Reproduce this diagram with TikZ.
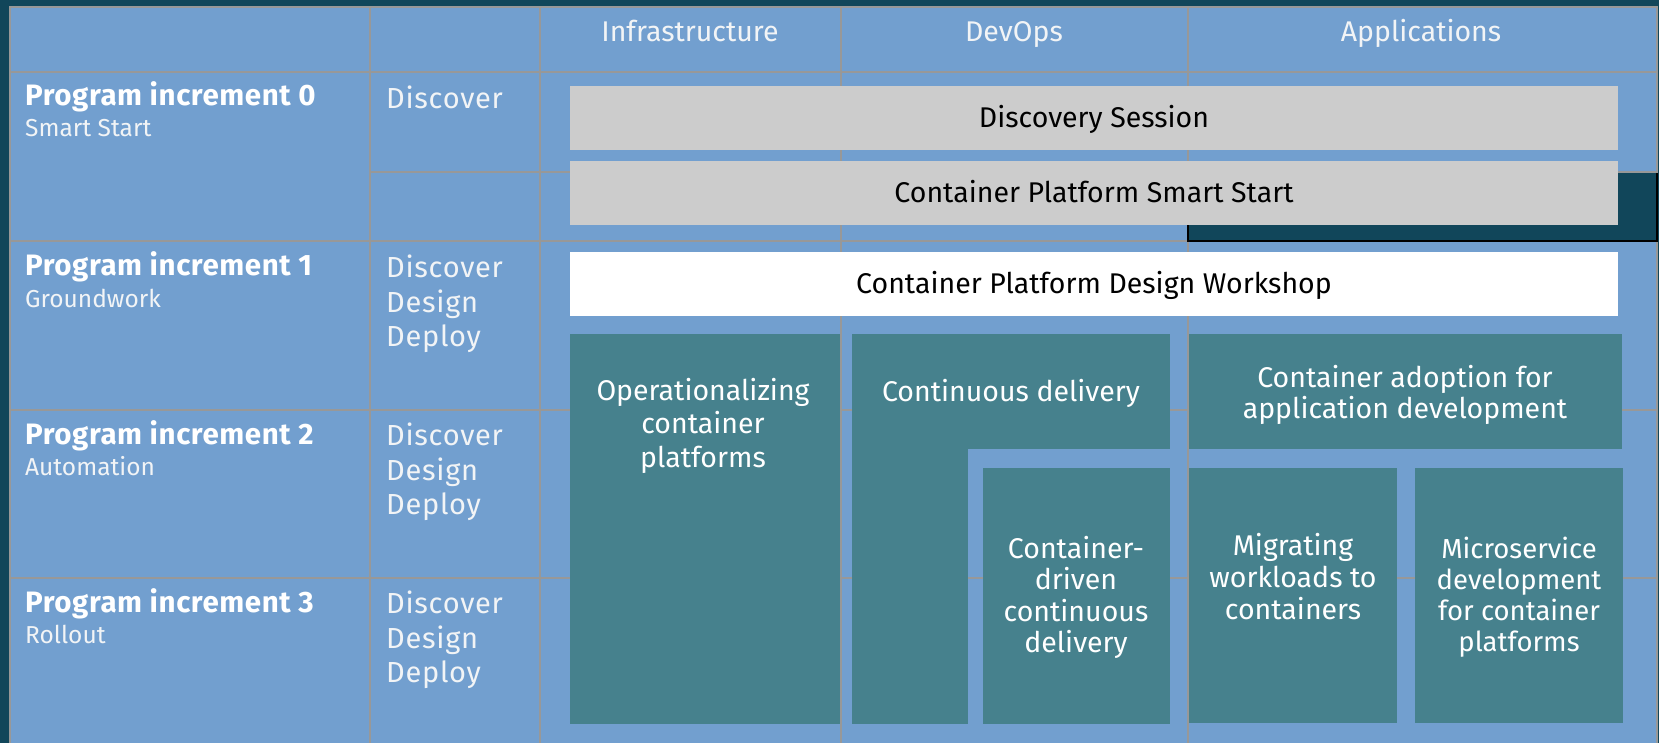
\documentclass[tikz,border=0pt]{standalone}
\usepackage{fontspec}
\setmainfont{Fira Sans}
\definecolor{bgc}{RGB}{17,70,90}
\definecolor{cellc}{RGB}{114,159,207}
\definecolor{gridc}{RGB}{152,152,152}
\definecolor{tealc}{RGB}{70,129,141}
\definecolor{grayc}{RGB}{204,204,204}
\definecolor{txtc}{RGB}{242,244,246}
\newcommand{\bxfont}{\fontsize{28.5}{31.5}\selectfont}
\newcommand{\opfont}{\fontsize{28.5}{33.5}\selectfont}
\newcommand{\hdfont}{\fontsize{28.5}{32}\selectfont}
\newcommand{\lbfont}{\fontsize{29.5}{32}\selectfont\bfseries\addfontfeature{LetterSpace=2}}
\newcommand{\sbfont}{\fontsize{24.5}{28}\selectfont}
\newcommand{\ddfont}{\fontsize{29}{34.5}\selectfont\addfontfeature{LetterSpace=2.5}}
\newcommand{\topstrut}{\rule{0pt}{21pt}}
\tikzset{
  gridline/.style={draw=gridc, line width=1.8pt},
  boxbase/.style={inner sep=0pt, outer sep=0pt, draw=none},
  graybox/.style={boxbase, fill=grayc, text=black, font=\bxfont, text height=20pt, text depth=0pt},
  whitebox/.style={boxbase, fill=white, text=black, font=\bxfont, text height=20pt, text depth=0pt},
  tealbox/.style={boxbase, fill=tealc, text=white, font=\bxfont, text height=20pt, text depth=0pt},
  boxtext/.style={inner sep=0pt, text=white, font=\bxfont, align=center, anchor=north},
  headtext/.style={inner sep=0pt, text=txtc, font=\hdfont, anchor=base},
  labtext/.style={inner sep=0pt, text=white, font=\lbfont, anchor=base west},
  subtext/.style={inner sep=0pt, text=txtc, font=\sbfont, anchor=base west},
  ddtext/.style={inner sep=0pt, text=txtc, font=\ddfont, align=left, anchor=north west}
}
\begin{document}
\begin{tikzpicture}[x=1pt,y=-1pt]
\useasboundingbox (0,0) rectangle (1659,743);
\fill[bgc] (0,0) rectangle (1659,743);
% table
\fill[cellc] (10,7) rectangle (1657,743);
\foreach \y in {72,241,410,578} \draw[gridline] (10,\y) -- (1657,\y);
\draw[gridline] (370,172) -- (1657,172);
\foreach \x in {370,540,841,1188} \draw[gridline] (\x,7) -- (\x,743);
\draw[gridline] (10,743) -- (10,7) -- (1657,7) -- (1657,743);
% dark cell
\fill[bgc] (1188,173) rectangle (1658,241);
\draw[black, line width=2.5pt] (1188,173) -- (1188,241) -- (1657,241) -- (1657,173);
% headers
\node[headtext] (hinf) at (690,42) {Infrastructure};
\node[headtext] (hdev) at (1014,42) {DevOps};
\node[headtext] (happ) at (1421,42) {Applications};
% row labels
\node[labtext] (p0) at (25,106) {Program increment 0};
\node[subtext] (p0s) at (25,137) {Smart Start};
\node[labtext] (p1) at (25,276) {Program increment 1};
\node[subtext] (p1s) at (25,307) {Groundwork};
\node[labtext] (p2) at (25,444) {Program increment 2};
\node[subtext] (p2s) at (25,475) {Automation};
\node[labtext] (p3) at (25,612) {Program increment 3};
\node[subtext] (p3s) at (25,643) {Rollout};
\node[ddtext] (d0) at (386,85.5) {\topstrut Discover};
\node[ddtext] (d1) at (386,255) {\topstrut Discover\\Design\\Deploy};
\node[ddtext] (d2) at (386,423) {\topstrut Discover\\Design\\Deploy};
\node[ddtext] (d3) at (386,591) {\topstrut Discover\\Design\\Deploy};
% wide boxes
\node[graybox, minimum width=1048pt, minimum height=64pt] (ds) at (1094,118) {Discovery Session};
\node[graybox, minimum width=1048pt, minimum height=64pt] (ss) at (1094,193) {Container Platform Smart Start};
\node[whitebox, minimum width=1048pt, minimum height=64pt] (dw) at (1094,284) {Container Platform Design Workshop};
% teal boxes
\node[tealbox, minimum width=270pt, minimum height=390pt] (op) at (705,529) {};
\node[boxtext, font=\opfont] (opt) at (703,378) {\topstrut Operationalizing\\container\\platforms};
\node[tealbox, minimum width=318pt, minimum height=115pt] (cd) at (1011,391.5) {Continuous delivery};
\node[tealbox, minimum width=116pt, minimum height=276pt] (cdleg) at (910,586) {};
\node[tealbox, minimum width=187pt, minimum height=256pt] (cdcd) at (1076.5,596) {};
\node[boxtext] (cdcdt) at (1076,536) {\topstrut Container-\\driven\\continuous\\delivery};
\node[tealbox, minimum width=433pt, minimum height=115pt] (caad) at (1405.5,391.5) {};
\node[boxtext] (caadt) at (1405,365) {\topstrut Container adoption for\\application development};
\node[tealbox, minimum width=208pt, minimum height=255pt] (mig) at (1293,595.5) {};
\node[boxtext, font=\fontsize{28.5}{32}\selectfont] (migt) at (1293,533) {\topstrut Migrating\\workloads to\\containers};
\node[tealbox, minimum width=208pt, minimum height=255pt] (mic) at (1519,595.5) {};
\node[boxtext, font=\fontsize{27.5}{30.8}\selectfont] (mict) at (1519,537) {\topstrut Microservice\\development\\for container\\platforms};
\end{tikzpicture}
\end{document}
